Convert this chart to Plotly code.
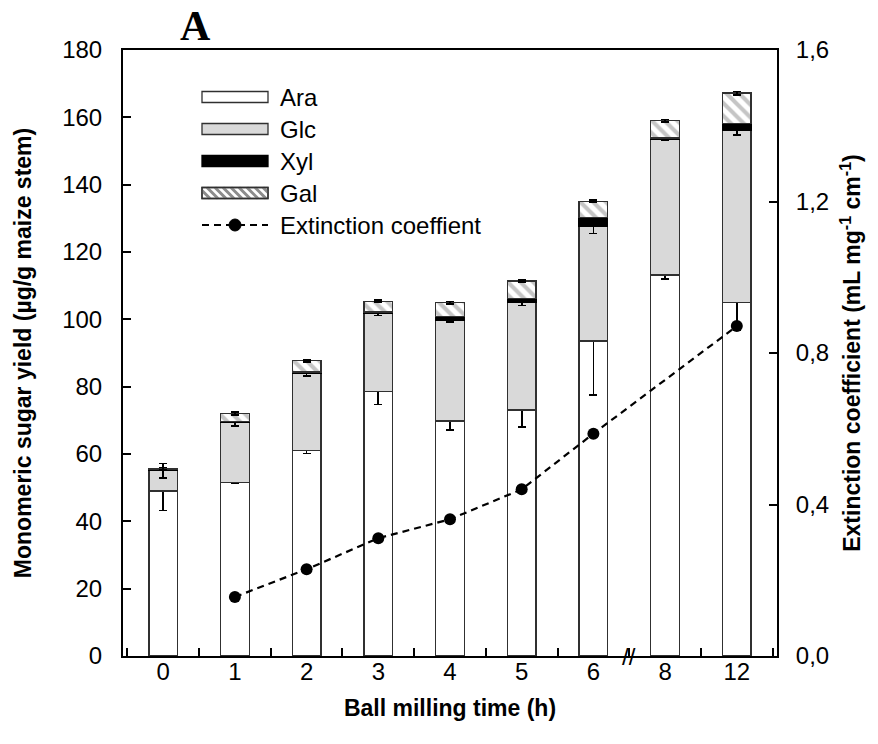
import plotly.graph_objects as go

categories = ["0", "1", "2", "3", "4", "5", "6", "8", "12"]
ara = [49.0, 51.6, 61.0, 78.5, 69.8, 73.1, 93.6, 113.2, 105.0]
ara_err = [5.8, 0.3, 0.8, 3.8, 2.6, 5.0, 16.0, 1.3, 8.3]
glc = [6.0, 17.7, 23.0, 23.3, 30.0, 31.8, 33.9, 40.4, 51.2]
glc_err = [2.2, 1.0, 0.8, 0.7, 0.6, 0.8, 2.0, 0.5, 1.5]
xyl = [0.5, 0.4, 0.4, 0.4, 1.0, 1.3, 2.8, 0.3, 2.0]
xyl_err = [0.0, 0.0, 0.0, 0.0, 0.0, 0.0, 0.0, 0.0, 0.0]
gal = [0.2, 2.3, 3.3, 3.2, 4.1, 5.2, 4.8, 5.1, 9.0]
gal_err = [0.3, 0.5, 0.3, 0.3, 0.4, 0.3, 0.3, 0.3, 0.5]
extinction = [None, 0.156, 0.229, 0.311, 0.361, 0.440, 0.587, None, 0.871]
legend_names = ["Ara", "Glc", "Xyl", "Gal", "Extinction coeffient"]

FONT = "Liberation Sans, Arial, sans-serif"
OUT = "#303030"
GLC_COL = "#d9d9d9"
HATCH = "#8c8c8c"
DASH = "7px,5px"

W, H = 878, 744
ML, MR, MT, MB = 123, 101, 50, 88
PW, PH = W - ML - MR, H - MT - MB


def px(x):
    return (x - ML) / PW


def py(y):
    return (H - MB - y) / PH


def err(v):
    return dict(type="data", array=v, visible=True, color="black", thickness=1.6, width=4)


fig = go.Figure()
fig.add_trace(go.Bar(x=categories, y=ara, name=legend_names[0], showlegend=False,
                     marker=dict(color="white", line=dict(color=OUT, width=1.3)), error_y=err(ara_err)))
fig.add_trace(go.Bar(x=categories, y=glc, name=legend_names[1], showlegend=False,
                     marker=dict(color=GLC_COL, line=dict(color=OUT, width=1.3)), error_y=err(glc_err)))
fig.add_trace(go.Bar(x=categories, y=xyl, name=legend_names[2], showlegend=False,
                     marker=dict(color="black", line=dict(color="black", width=1.3)), error_y=err(xyl_err)))
fig.add_trace(go.Bar(x=categories, y=gal, name=legend_names[3], showlegend=False,
                     marker=dict(color="white", line=dict(color=OUT, width=1.3),
                                 pattern=dict(shape="\\", fgcolor=HATCH, bgcolor="white", size=9, solidity=0.45)),
                     error_y=err(gal_err)))
fig.add_trace(go.Scatter(x=categories, y=extinction, name=legend_names[4], yaxis="y2", showlegend=False,
                         mode="lines+markers", connectgaps=True,
                         line=dict(color="black", width=2.2, dash=DASH),
                         marker=dict(color="black", size=12)))

fig.update_layout(
    width=W, height=H,
    margin=dict(l=ML, r=MR, t=MT, b=MB),
    barmode="stack", bargap=0.6,
    plot_bgcolor="white", paper_bgcolor="white",
    separators=",.",
    font=dict(family=FONT, size=24, color="black"),
    showlegend=False,
    xaxis=dict(type="category", categoryorder="array", categoryarray=categories,
               showline=True, linecolor="black", linewidth=2, mirror=True,
               ticks="inside", ticklen=8, tickwidth=1.5, tickcolor="black", tickson="boundaries",
               ticklabelstandoff=-7,
               tickfont=dict(size=24, family=FONT),
               title=dict(text="<b>Ball milling time (h)</b>", font=dict(size=23, family=FONT), standoff=16),
               showgrid=False, zeroline=False),
    yaxis=dict(range=[0, 180], dtick=20, showline=True, linecolor="black", linewidth=2,
               ticks="inside", ticklen=8, tickwidth=1.5, tickcolor="black",
               ticklabelstandoff=14,
               tickfont=dict(size=24, family=FONT),
               title=dict(text="<b>Monomeric sugar yield (µg/g maize stem)</b>", font=dict(size=23, family=FONT), standoff=24),
               showgrid=False, zeroline=False),
    yaxis2=dict(range=[0, 1.6], dtick=0.4, tickformat=".1f", overlaying="y", side="right",
                showline=True, linecolor="black", linewidth=2,
                ticks="inside", ticklen=8, tickwidth=1.5, tickcolor="black",
                ticklabelstandoff=12,
                tickfont=dict(size=24, family=FONT),
                title=dict(text="<b>Extinction coefficient (mL mg<sup>-1</sup> cm<sup>-1</sup>)</b>", font=dict(size=23, family=FONT), standoff=16),
                showgrid=False, zeroline=False),
)

# axis break mark and panel letter
fig.add_annotation(x=6.5, y=0, xref="x", yref="y", text="//", showarrow=False,
                   font=dict(size=24, family=FONT, color="black"))
fig.add_annotation(x=px(195), y=py(26), xref="paper", yref="paper", text="<b>A</b>", showarrow=False,
                   xanchor="center", yanchor="middle",
                   font=dict(size=42, family="Liberation Serif, Times New Roman, serif", color="black"))

# legend (drawn manually to reproduce the wide swatches)
SX0, SX1, TX = 202, 268, 278
ROW0, ROWSTEP, SH = 97, 32, 11
rows = [ROW0 + i * ROWSTEP for i in range(5)]
fills = ["white", GLC_COL, "black", "white"]
lines = [OUT, OUT, "black", OUT]
for i in range(4):
    yc = rows[i]
    fig.add_shape(type="rect", xref="paper", yref="paper",
                  x0=px(SX0), x1=px(SX1), y0=py(yc + SH / 2), y1=py(yc - SH / 2),
                  fillcolor=fills[i], line=dict(color=lines[i], width=1.3))
# hatch for Gal swatch
yc = rows[3]
top, bot = yc - SH / 2, yc + SH / 2
step = 8
x = SX0 - SH
while x < SX1:
    xa, ya = x, top
    xb, yb = x + SH, bot
    if xa < SX0:
        ya = top + (SX0 - xa)
        xa = SX0
    if xb > SX1:
        yb = bot - (xb - SX1)
        xb = SX1
    if xb > xa:
        fig.add_shape(type="line", xref="paper", yref="paper",
                      x0=px(xa), y0=py(ya), x1=px(xb), y1=py(yb),
                      line=dict(color=HATCH, width=3))
    x += step
fig.add_shape(type="rect", xref="paper", yref="paper",
              x0=px(SX0), x1=px(SX1), y0=py(bot), y1=py(top),
              fillcolor="rgba(0,0,0,0)", line=dict(color=OUT, width=1.3))
# extinction legend entry
yc = rows[4]
fig.add_shape(type="line", xref="paper", yref="paper",
              x0=px(SX0), x1=px(SX1), y0=py(yc), y1=py(yc),
              line=dict(color="black", width=2.2, dash=DASH))
mcx, r = (SX0 + SX1) / 2, 6
fig.add_shape(type="circle", xref="paper", yref="paper",
              x0=px(mcx - r), x1=px(mcx + r), y0=py(yc + r), y1=py(yc - r),
              fillcolor="black", line=dict(color="black", width=1))
for i, name in enumerate(legend_names):
    fig.add_annotation(x=px(TX), y=py(rows[i]), xref="paper", yref="paper", text=name,
                       showarrow=False, xanchor="left", yanchor="middle",
                       font=dict(size=24, family=FONT, color="black"))

fig.write_html("out.html")
